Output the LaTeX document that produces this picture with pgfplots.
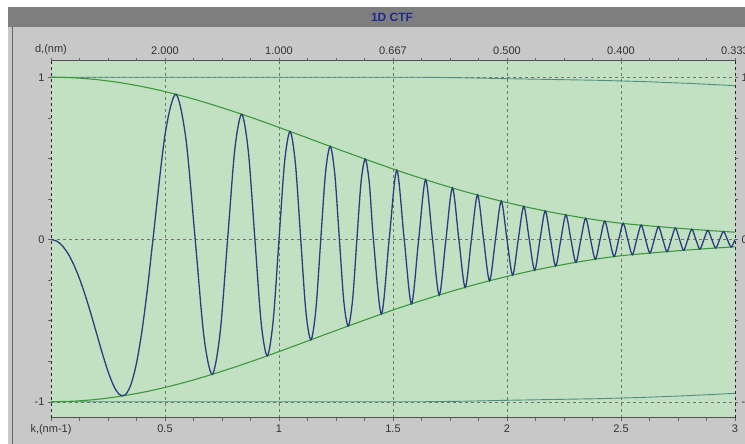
\documentclass[border=0pt]{standalone}
\usepackage{fontspec}
\setmainfont{Liberation Sans}
\usepackage{pgfplots}
\usepackage{pgfplotstable}
\pgfplotsset{compat=1.18}
\definecolor{panelgray}{HTML}{C8C8C8}
\definecolor{bargray}{HTML}{7E7E7E}
\definecolor{plotgreen}{HTML}{C2E0C2}
\definecolor{ctfblue}{HTML}{2B3D80}
\definecolor{envgreen}{HTML}{3A9A3A}
\definecolor{tealline}{HTML}{4F8F82}
\definecolor{titleblue}{HTML}{1E2A8C}
\definecolor{axisgray}{HTML}{505050}

\pgfplotstableread{
k y
0 0
0.025 -0.0098
0.05 -0.0393
0.075 -0.0881
0.1 -0.1559
0.125 -0.2416
0.15 -0.3432
0.175 -0.4575
0.2 -0.5792
0.225 -0.7009
0.25 -0.8125
0.275 -0.9020
0.3 -0.9553
0.325 -0.9580
0.35 -0.8964
0.375 -0.7621
0.4 -0.5540
0.425 -0.2801
0.4472 0
0.5 0.6446
0.5477 0.8949
0.5916 0.6212
0.6325 0
0.6708 -0.5986
0.7071 -0.8311
0.7416 -0.5769
0.7746 0
0.8062 0.5559
0.8367 0.7718
0.8660 0.5358
0.8944 0
0.9220 -0.5163
0.9487 -0.7168
0.9747 -0.4975
1.0 0
1.0247 0.4795
1.0488 0.6656
1.0724 0.4620
1.0954 0
1.1180 -0.4453
1.1402 -0.6182
1.1619 -0.4291
1.1832 0
1.2042 0.4135
1.2247 0.5741
1.2450 0.3985
1.2649 0
1.2845 -0.3840
1.3038 -0.5331
1.3229 -0.3701
1.3416 0
1.3601 0.3566
1.3784 0.4951
1.3964 0.3437
1.4142 0
1.4491 -0.4598
1.4832 0
1.5166 0.4270
1.5492 0
1.5811 -0.3965
1.6125 0
1.6432 0.3682
1.6733 0
1.7029 -0.3420
1.7321 0
1.7607 0.3176
1.7889 0
1.8166 -0.2949
1.8439 0
1.8708 0.2739
1.8974 0
1.9235 -0.2544
1.9494 0
1.9748 0.2362
2.0 0
2.0248 -0.2194
2.0494 0
2.0736 0.2037
2.0976 0
2.1213 -0.1892
2.1448 0
2.1679 0.1757
2.1909 0
2.2136 -0.1632
2.2361 0
2.2583 0.1515
2.2804 0
2.3022 -0.1407
2.3238 0
2.3452 0.1307
2.3664 0
2.3875 -0.1214
2.4083 0
2.4290 0.1127
2.4495 0
2.4698 -0.1050
2.4900 0
2.5100 0.0987
2.5298 0
2.5495 -0.0936
2.5690 0
2.5884 0.0885
2.6077 0
2.6268 -0.0838
2.6458 0
2.6646 0.0792
2.6833 0
2.7019 -0.0748
2.7203 0
2.7386 0.0708
2.7568 0
2.7749 -0.0668
2.7928 0
2.8107 0.0629
2.8284 0
2.8460 -0.0594
2.8636 0
2.8810 0.0559
2.8983 0
2.9155 -0.0526
2.9326 0
2.9496 0.0495
2.9665 0
2.9833 -0.0465
3.0 0
}\ctf

\pgfplotstableread{
k up lo
0 1 -1
0.1 0.9963 -0.9963
0.2 0.9853 -0.9853
0.3 0.9672 -0.9672
0.4 0.9425 -0.9425
0.5 0.9116 -0.9116
0.6 0.8754 -0.8754
0.7 0.8341 -0.8341
0.8 0.7891 -0.7891
0.9 0.7412 -0.7412
1.0 0.6907 -0.6907
1.1 0.6390 -0.6390
1.2 0.5866 -0.5866
1.3 0.5350 -0.5350
1.4 0.4843 -0.4843
1.5 0.4346 -0.4346
1.6 0.3878 -0.3878
1.7 0.3433 -0.3433
1.8 0.3013 -0.3013
1.9 0.2630 -0.2630
2.0 0.2276 -0.2276
2.1 0.1956 -0.1956
2.2 0.1668 -0.1668
2.3 0.1414 -0.1414
2.4 0.1187 -0.1187
2.5 0.1000 -0.1000
2.6 0.0870 -0.0870
2.7 0.0750 -0.0750
2.8 0.0640 -0.0640
2.9 0.0540 -0.0540
3.0 0.0450 -0.0450
}\env

\pgfplotstableread{
k up lo
0 1 -1
1.62 1 -1
1.8 0.997 -0.997
2.0 0.991 -0.991
2.2 0.986 -0.986
2.4 0.981 -0.981
2.6 0.973 -0.973
2.8 0.962 -0.962
3.0 0.948 -0.948
}\teal

\begin{document}
\begin{tikzpicture}[x=1pt,y=1pt]
\clip (0,0) rectangle (745,444);
\fill[white] (0,0) rectangle (745,444);
\fill[panelgray] (8,0) rectangle (745,417);
\fill[bargray] (8,417) rectangle (745,437);
\draw[gray!80!black, line width=0.8pt] (12,0) -- (12,417);
\node[font=\bfseries\fontsize{12}{14}\selectfont, text=titleblue] at (392,427) {1D CTF};

\begin{axis}[
  at={(51pt,26pt)}, anchor=south west,
  scale only axis, width=684pt, height=357pt,
  xmin=0, xmax=3, ymin=-1.1, ymax=1.1,
  axis background/.style={fill=plotgreen},
  separate axis lines,
  x axis line style={draw=axisgray, line width=1pt},
  y axis line style={draw=black!85, dashed, line width=1pt},
  xtick={0,0.5,1,1.5,2,2.5,3},
  xticklabels={{k,(nm-1)},0.5,1,1.5,2,2.5,3},
  ytick={-1,0,1},
  yticklabels={-1,0,1},
  xtick pos=left, ytick pos=left,
  minor x tick num=3, minor y tick num=3,
  tick align=outside,
  major tick length=3pt, minor tick length=3pt,
  tick style={draw=black!60, thin},
  grid=major,
  grid style={dashed, draw=gray!90!black, thin},
  ticklabel style={font=\fontsize{11}{13}\selectfont, text=black!80},
  /pgf/number format/assume math mode=true,
]
\addplot[tealline, line width=0.9pt] table[x=k, y=up] {\teal};
\addplot[tealline, line width=0.9pt] table[x=k, y=lo] {\teal};
\addplot[envgreen, line width=1.1pt, smooth] table[x=k, y=up] {\env};
\addplot[envgreen, line width=1.1pt, smooth] table[x=k, y=lo] {\env};
\addplot[ctfblue, line width=1.3pt, smooth] table[x=k, y=y] {\ctf};
\end{axis}

\begin{axis}[
  at={(51pt,26pt)}, anchor=south west,
  scale only axis, width=684pt, height=357pt,
  xmin=0, xmax=3, ymin=-1.1, ymax=1.1,
  axis line style={draw=none},
  xtick={0,0.5,1,1.5,2,2.5,3},
  xticklabels={{d,(nm)},2.000,1.000,0.667,0.500,0.400,0.333},
  ytick={-1,0,1},
  yticklabels={-1,0,1},
  xtick pos=right, ytick pos=right,
  xticklabel pos=right, yticklabel pos=right,
  minor x tick num=3, minor y tick num=3,
  tick align=outside,
  major tick length=3pt, minor tick length=3pt,
  tick style={draw=black!60, thin},
  ticklabel style={font=\fontsize{11}{13}\selectfont, text=black!80},
  /pgf/number format/assume math mode=true,
]
\end{axis}
\end{tikzpicture}
\end{document}
